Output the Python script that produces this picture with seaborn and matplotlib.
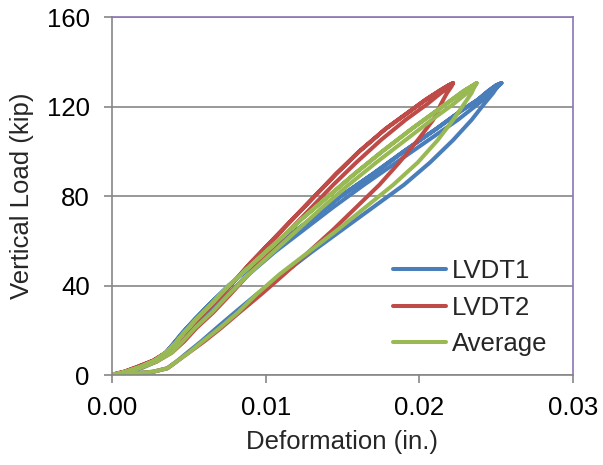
import matplotlib
matplotlib.use('Agg')
import matplotlib.pyplot as plt
import seaborn as sns
import pandas as pd

# 하중 단계 (kip): 재하 / 제하 경로
load_up = [0, 0.5, 1.5, 3, 6, 10, 15, 21, 28, 36, 45, 55, 65, 75, 85, 95, 105, 114, 121, 126, 129, 130.5]
load_down = [129.5, 127, 123, 118, 110, 100, 90, 80, 70, 60, 50, 40, 32, 25, 19, 14, 10, 6.5, 3.5, 1.5, 0.5, 0]

# 변형 (in.) - 그림에서 읽은 값 (1차 재하, 2차 재하, 제하)
lvdt1_load1 = [0, 0.0012, 0.0027, 0.0036, 0.0042, 0.0049, 0.0058, 0.0068, 0.0080, 0.0094, 0.0111,
               0.0130, 0.0150, 0.0170, 0.0190, 0.0207, 0.0222, 0.0234, 0.0242, 0.0248, 0.0251, 0.02535]
lvdt1_load2 = [0, 0.0004, 0.0011, 0.0019, 0.0029, 0.0038, 0.0045, 0.0053, 0.0063, 0.0075, 0.0089,
               0.0106, 0.0125, 0.0144, 0.0164, 0.0185, 0.0206, 0.0225, 0.0238, 0.0246, 0.0251, 0.02535]
lvdt1_unload = [0.0250, 0.0245, 0.0238, 0.0227, 0.0211, 0.0190, 0.0170, 0.0149, 0.0130, 0.0111, 0.0093,
                0.0076, 0.0064, 0.0054, 0.0046, 0.0040, 0.0035, 0.0028, 0.0019, 0.0010, 0.0003, 0.0]

lvdt2_load1 = [0, 0.0012, 0.0027, 0.0036, 0.0042, 0.0050, 0.0060, 0.0071, 0.0083, 0.0097, 0.0112,
               0.0128, 0.0144, 0.0159, 0.0174, 0.0187, 0.0199, 0.0209, 0.0214, 0.0218, 0.0221, 0.0222]
lvdt2_load2 = [0, 0.0003, 0.0009, 0.0017, 0.0029, 0.0039, 0.0047, 0.0055, 0.0066, 0.0077, 0.0089,
               0.0102, 0.0116, 0.0130, 0.0144, 0.0159, 0.0175, 0.0191, 0.0205, 0.0214, 0.0220, 0.0222]
lvdt2_unload = [0.0219, 0.0213, 0.0204, 0.0194, 0.0178, 0.0161, 0.0146, 0.0132, 0.0118, 0.0104, 0.0090,
                0.0077, 0.0066, 0.0056, 0.0048, 0.0041, 0.0035, 0.0027, 0.0016, 0.0008, 0.0002, 0.0]

avg_load1 = [0, 0.0012, 0.0027, 0.0036, 0.0042, 0.0050, 0.0059, 0.0070, 0.0082, 0.0094, 0.0109,
             0.0128, 0.0147, 0.0165, 0.0183, 0.0199, 0.0212, 0.0222, 0.0229, 0.0234, 0.0236, 0.02373]
avg_load2 = [0, 0.0004, 0.0010, 0.0018, 0.0029, 0.0039, 0.0046, 0.0054, 0.0065, 0.0076, 0.0089,
             0.0105, 0.0121, 0.0137, 0.0154, 0.0172, 0.0191, 0.0208, 0.0222, 0.0231, 0.0236, 0.02373]
avg_unload = [0.0235, 0.0229, 0.0221, 0.0211, 0.0195, 0.0176, 0.0158, 0.0141, 0.0124, 0.0108, 0.0092,
              0.0076, 0.0065, 0.0055, 0.0047, 0.0041, 0.0035, 0.0028, 0.0018, 0.0009, 0.0003, 0.0]

series_names = ['LVDT1', 'LVDT2', 'Average']
colors = ['#4A7EBB', '#BE4B48', '#98B954']

# 재하1 -> 제하 -> 재하2 -> 제하 순서로 하나의 경로 구성
rows = []
for name, l1, l2, ul in [('LVDT1', lvdt1_load1, lvdt1_load2, lvdt1_unload),
                         ('LVDT2', lvdt2_load1, lvdt2_load2, lvdt2_unload),
                         ('Average', avg_load1, avg_load2, avg_unload)]:
    xs = l1 + ul + l2 + ul
    ys = load_up + load_down + load_up + load_down
    for x, y in zip(xs, ys):
        rows.append({'Deformation': x, 'Load': y, 'Series': name})
df = pd.DataFrame(rows)

sns.set_style('white')
plt.rcParams['font.family'] = ['Liberation Sans', 'DejaVu Sans']

fig = plt.figure(figsize=(6.03, 4.65), dpi=100)
ax = fig.add_axes([0.1857, 0.1935, 0.7645, 0.7699])

sns.lineplot(data=df, x='Deformation', y='Load', hue='Series', hue_order=series_names,
             palette=colors, sort=False, estimator=None, units='Series',
             linewidth=2.9, ax=ax)

ax.set_xlim(0, 0.03)
ax.set_ylim(0, 160)
ax.set_xticks([0, 0.01, 0.02, 0.03])
ax.set_xticklabels(['0.00', '0.01', '0.02', '0.03'])
ax.set_yticks([0, 40, 80, 120, 160])

ax.yaxis.grid(True, color='#868686', linewidth=1.2)
ax.xaxis.grid(False)
ax.set_axisbelow(True)

for side in ['left', 'bottom']:
    ax.spines[side].set_color('#868686')
    ax.spines[side].set_linewidth(1.2)
for side in ['top', 'right']:
    ax.spines[side].set_color('#8B76B5')
    ax.spines[side].set_linewidth(1.2)

ax.tick_params(axis='both', which='major', direction='out', length=6, width=1.2,
               color='#868686', labelsize=18.5, labelcolor='black',
               left=True, bottom=True)
ax.tick_params(axis='x', pad=9)
ax.tick_params(axis='y', pad=10)

ax.set_xlabel('Deformation (in.)', fontsize=18.5, labelpad=7)
ax.set_ylabel('Vertical Load (kip)', fontsize=18.5, labelpad=9)

leg = ax.legend(loc='upper left', bbox_to_anchor=(0.6095, 0.325), frameon=False,
                fontsize=18.5, handlelength=2.08, handletextpad=0.2,
                labelspacing=0.5, borderpad=0, borderaxespad=0)
for line in leg.get_lines():
    line.set_linewidth(2.9)

fig.savefig('out.png', dpi=100)
